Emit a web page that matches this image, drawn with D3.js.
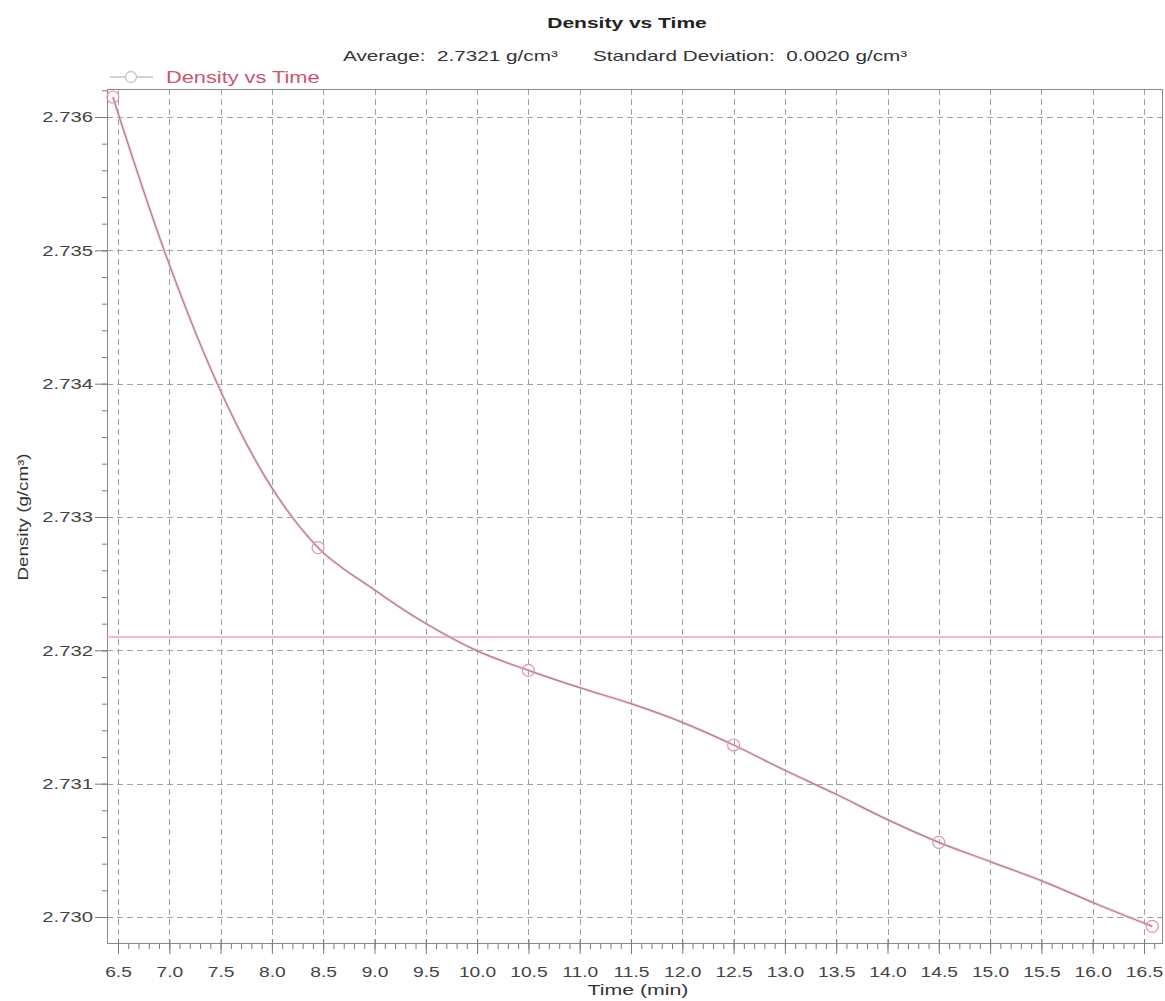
<!DOCTYPE html>
<html>
<head>
<meta charset="utf-8">
<script src="https://cdn.jsdelivr.net/npm/d3@7"></script>
<style>
  html, body { margin: 0; padding: 0; background: #fff; }
  svg { display: block; font-family: "Liberation Sans", Arial, sans-serif; }
</style>
</head>
<body>
<svg id="chart" width="1165" height="1001"></svg>
<script>
// Density readings (g/cm³) against elapsed time (min)
const times = [6.45, 6.95, 7.45, 7.95, 8.45, 8.97, 9.48, 9.99, 10.5, 11.0, 11.5,
               12.0, 12.5, 13.0, 13.5, 14.0, 14.5, 15.02, 15.54, 16.06, 16.58];
const densities = [2.73615, 2.73500, 2.73403, 2.73328, 2.73277, 2.73247, 2.73221,
                   2.73200, 2.73185, 2.73172, 2.73160, 2.73146, 2.73129, 2.73110,
                   2.73092, 2.73073, 2.73056, 2.73041, 2.73026, 2.73009, 2.72993];
// samples that carry a marker symbol
const markerIndex = [0, 4, 8, 12, 16, 20];

const average = 2.7321;
const stdDev = 0.0020;

const xTickValues = [6.5, 7.0, 7.5, 8.0, 8.5, 9.0, 9.5, 10.0, 10.5, 11.0, 11.5,
                     12.0, 12.5, 13.0, 13.5, 14.0, 14.5, 15.0, 15.5, 16.0, 16.5];
const yTickValues = [2.730, 2.731, 2.732, 2.733, 2.734, 2.735, 2.736];

const titleText = "Density vs Time";
const seriesName = "Density vs Time";
const xTitle = "Time (min)";
const yTitle = "Density (g/cm³)";

const svg = d3.select("#chart");
const frame = { left: 107, right: 1162, top: 89, bottom: 943 };

const x = d3.scaleLinear().domain([6.5, 16.5]).range([118, 1144]);
const y = d3.scaleLinear().domain([2.730, 2.736]).range([917, 117]);

// widen glyphs horizontally by factor k
function stretch(sel, k) {
  sel.each(function () {
    const w = this.getComputedTextLength();
    this.setAttribute("textLength", w * k);
    this.setAttribute("lengthAdjust", "spacingAndGlyphs");
  });
}

const xMinor = d3.range(Math.round(x.invert(frame.left) * 10 + 1), Math.round(x.invert(frame.right) * 10))
  .map(d => d / 10);
const yMinor = d3.range(Math.ceil(y.invert(frame.bottom) * 5000), Math.floor(y.invert(frame.top) * 5000) + 1)
  .map(d => d / 5000);

// dashed grid
const grid = svg.append("g").attr("stroke", "#a0a0a0").attr("stroke-width", 1)
  .attr("stroke-dasharray", "6,4").attr("fill", "none");
grid.selectAll("line.v").data(xTickValues).join("line")
  .attr("class", "v")
  .attr("x1", d => Math.round(x(d)) + 0.5).attr("x2", d => Math.round(x(d)) + 0.5)
  .attr("y1", frame.top).attr("y2", frame.bottom);
grid.selectAll("line.h").data(yTickValues).join("line")
  .attr("class", "h")
  .attr("x1", frame.left).attr("x2", frame.right)
  .attr("y1", d => Math.round(y(d)) + 0.5).attr("y2", d => Math.round(y(d)) + 0.5);

// plot frame
svg.append("rect")
  .attr("x", frame.left + 0.5).attr("y", frame.top + 0.5)
  .attr("width", frame.right - frame.left).attr("height", frame.bottom - frame.top)
  .attr("fill", "none").attr("stroke", "#8a8a8a").attr("stroke-width", 1);

// average line
svg.append("line")
  .attr("x1", frame.left).attr("x2", frame.right)
  .attr("y1", y(average)).attr("y2", y(average))
  .attr("stroke", "#f2a6b6").attr("stroke-width", 1.5);

// axes
const tickColor = "#7a7a7a";
const xAxisMinor = svg.append("g").attr("transform", `translate(0,${frame.bottom})`)
  .call(d3.axisBottom(x).tickValues(xMinor).tickSize(6).tickFormat(""));
const xAxis = svg.append("g").attr("transform", `translate(0,${frame.bottom})`)
  .call(d3.axisBottom(x).tickValues(xTickValues).tickSize(11).tickPadding(12)
    .tickFormat(d3.format(".1f")));
xAxis.selectAll("line").attr("y1", -4);

const yAxisMinor = svg.append("g").attr("transform", `translate(${frame.left},0)`)
  .call(d3.axisLeft(y).tickValues(yMinor).tickSize(5).tickFormat(""));
const yAxis = svg.append("g").attr("transform", `translate(${frame.left},0)`)
  .call(d3.axisLeft(y).tickValues(yTickValues).tickSize(12).tickPadding(2)
    .tickFormat(d3.format(".3f")));

[xAxisMinor, xAxis, yAxisMinor, yAxis].forEach(g => {
  g.select(".domain").remove();
  g.selectAll("line").attr("stroke", tickColor);
});
xAxis.selectAll("text").attr("font-size", 15).attr("fill", "#444")
  .call(stretch, 1.28);
yAxis.selectAll("text").attr("font-size", 15).attr("fill", "#444")
  .call(stretch, 1.35);

// series line
const pts = times.map((t, i) => ({ t, v: densities[i] }));
const line = d3.line().x(d => x(d.t)).y(d => y(d.v)).curve(d3.curveMonotoneX);
svg.append("path").datum(pts).attr("d", line)
  .attr("fill", "none").attr("stroke", "#f4bcc8").attr("stroke-width", 3).attr("opacity", 0.6);
svg.append("path").datum(pts).attr("d", line)
  .attr("fill", "none").attr("stroke", "#a8808c").attr("stroke-width", 1.2);

svg.selectAll("circle.mk").data(markerIndex.map(i => pts[i])).join("circle")
  .attr("class", "mk")
  .attr("cx", d => x(d.t)).attr("cy", d => y(d.v)).attr("r", 6)
  .attr("fill", "none").attr("stroke", "#e494a4").attr("stroke-width", 1.2);

// titles
svg.append("text").attr("x", 627).attr("y", 28).attr("text-anchor", "middle")
  .attr("font-size", 15).attr("font-weight", "bold").attr("fill", "#222")
  .text(titleText).call(stretch, 1.4);

svg.append("text").attr("x", 343).attr("y", 61).attr("font-size", 15).attr("fill", "#333")
  .attr("xml:space", "preserve")
  .text(`Average:  ${average.toFixed(4)} g/cm³`).call(stretch, 1.38);
svg.append("text").attr("x", 593).attr("y", 61).attr("font-size", 15).attr("fill", "#333")
  .attr("xml:space", "preserve")
  .text(`Standard Deviation:  ${stdDev.toFixed(4)} g/cm³`).call(stretch, 1.38);

// legend
const lg = svg.append("g");
lg.append("line").attr("x1", 110).attr("x2", 153).attr("y1", 77).attr("y2", 77)
  .attr("stroke", "#c4c4c4").attr("stroke-width", 1.5);
lg.append("circle").attr("cx", 131).attr("cy", 77).attr("r", 5.5)
  .attr("fill", "#fff").attr("stroke", "#c4c4c4").attr("stroke-width", 1.3);
lg.append("text").attr("x", 166).attr("y", 83).attr("font-size", 16).attr("fill", "#cc5470")
  .text(seriesName).call(stretch, 1.36);

// axis titles
svg.append("text").attr("x", 638).attr("y", 995).attr("text-anchor", "middle")
  .attr("font-size", 15).attr("fill", "#333").text(xTitle).call(stretch, 1.42);
svg.append("text").attr("transform", "translate(28,517) rotate(-90)")
  .attr("text-anchor", "middle").attr("font-size", 15).attr("fill", "#333")
  .text(yTitle).call(stretch, 1.25);
</script>
</body>
</html>
